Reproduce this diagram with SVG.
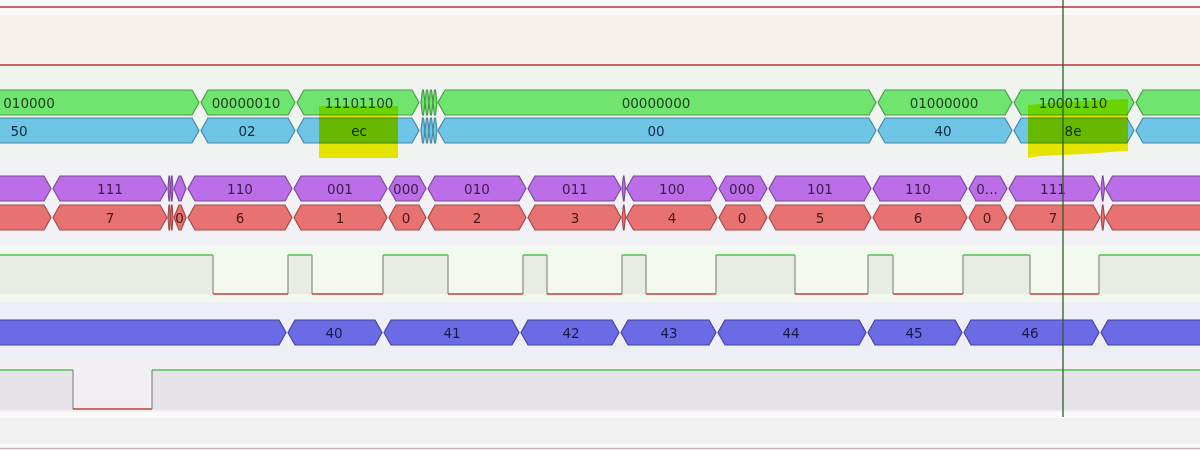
<svg xmlns="http://www.w3.org/2000/svg" xmlns:xlink="http://www.w3.org/1999/xlink" width="1200" height="450" viewBox="0 0 1200 450">
<style>
text{font-family:"DejaVu Sans","Liberation Sans",sans-serif;font-size:13.5px;text-anchor:middle}
.gbus{fill:#6fe46f;stroke:#4b9a4b;stroke-width:1.2}
.bbus{fill:#6ec5e5;stroke:#4a88a6;stroke-width:1.2}
.pbus{fill:#bb6ee8;stroke:#7c4a9c;stroke-width:1.2}
.rbus{fill:#e87272;stroke:#a44a4a;stroke-width:1.2}
.nbus{fill:#6b6be6;stroke:#45459c;stroke-width:1.2}
.gt{fill:#1c3c1c}.bt{fill:#0e2a44}.pt{fill:#3a1a4c}.rt{fill:#4c1414}.nt{fill:#1a1a48}
.hi{fill:none;stroke:#52c452;stroke-width:1.5}
.lo{fill:none;stroke:#c44040;stroke-width:1.5}
.ed{fill:none;stroke:#8a8a8a;stroke-width:1.2}
.hl{fill:#f4ee00;mix-blend-mode:multiply}
</style>
<defs>
<g id="gbShapes">
<polygon points="-19,102.5 -12,90 192,90 199,102.5 192,115 -12,115"/>
<polygon points="201,102.5 208,90 288,90 295,102.5 288,115 208,115"/>
<polygon points="297,102.5 304,90 412,90 419,102.5 412,115 304,115"/>
<polygon points="421,102.5 422.5,90 423.5,90 425,102.5 423.5,115 422.5,115"/>
<polygon points="425,102.5 426.5,90 427.5,90 429,102.5 427.5,115 426.5,115"/>
<polygon points="429,102.5 430.5,90 431.5,90 433,102.5 431.5,115 430.5,115"/>
<polygon points="433,102.5 434.5,90 435.5,90 437,102.5 435.5,115 434.5,115"/>
<polygon points="438,102.5 445,90 869,90 876,102.5 869,115 445,115"/>
<polygon points="878,102.5 885,90 1005,90 1012,102.5 1005,115 885,115"/>
<polygon points="1014,102.5 1021,90 1127,90 1134,102.5 1127,115 1021,115"/>
<polygon points="1136,102.5 1143,90 1220,90 1220,115 1143,115"/>
</g>
<g id="prShapes">
<polygon points="-19,188.5 -12,176 44,176 51,188.5 44,201 -12,201"/>
<polygon points="53,188.5 60,176 160,176 167,188.5 160,201 60,201"/>
<polygon points="168,188.5 169,176 169.5,176 170.5,188.5 169.5,201 169,201"/>
<polygon points="170.5,188.5 171.5,176 172,176 173,188.5 172,201 171.5,201"/>
<polygon points="174,188.5 179,176 181,176 186,188.5 181,201 179,201"/>
<polygon points="188,188.5 195,176 285,176 292,188.5 285,201 195,201"/>
<polygon points="294,188.5 301,176 380,176 387,188.5 380,201 301,201"/>
<polygon points="389,188.5 396,176 419,176 426,188.5 419,201 396,201"/>
<polygon points="428,188.5 435,176 519,176 526,188.5 519,201 435,201"/>
<polygon points="528,188.5 535,176 614,176 621,188.5 614,201 535,201"/>
<polygon points="622,188.5 623.5,176 624,176 625.5,188.5 624,201 623.5,201"/>
<polygon points="626.5,188.5 633.5,176 710,176 717,188.5 710,201 633.5,201"/>
<polygon points="719,188.5 726,176 760,176 767,188.5 760,201 726,201"/>
<polygon points="769,188.5 776,176 864,176 871,188.5 864,201 776,201"/>
<polygon points="873,188.5 880,176 960,176 967,188.5 960,201 880,201"/>
<polygon points="969,188.5 976,176 1000,176 1007,188.5 1000,201 976,201"/>
<polygon points="1009,188.5 1016,176 1093,176 1100,188.5 1093,201 1016,201"/>
<polygon points="1101,188.5 1102.5,176 1103,176 1104.5,188.5 1103,201 1102.5,201"/>
<polygon points="1105.5,188.5 1112.5,176 1220,176 1220,201 1112.5,201"/>
</g>
</defs>

<g id="background">
<rect x="0" y="0" width="1200" height="450" fill="#f2f2f4"/>
<rect x="0" y="0" width="1200" height="15" fill="#fbf9f8"/>
<rect x="0" y="15" width="1200" height="50" fill="#f6f0eb"/>
<rect x="0" y="66" width="1200" height="94" fill="#f0f4ef"/>
<rect x="0" y="160" width="1200" height="85" fill="#f2f2f6"/>
<rect x="0" y="245" width="1200" height="57" fill="#f4f9ef"/>
<rect x="0" y="302" width="1200" height="58" fill="#eeeef6"/>
<rect x="0" y="360" width="1200" height="52" fill="#f1eff3"/>
<rect x="0" y="412" width="1200" height="6" fill="#fafafa"/>
<rect x="0" y="418" width="1200" height="26" fill="#f1f1f1"/>
<rect x="0" y="444" width="1200" height="4" fill="#fbfbfb"/>
<line x1="0" y1="448.5" x2="1200" y2="448.5" stroke="#c9b8b6" stroke-width="1.5"/>
<line x1="0" y1="7" x2="1200" y2="7" stroke="#b03a3a" stroke-width="1.3"/>
<line x1="0" y1="65" x2="1200" y2="65" stroke="#b03a3a" stroke-width="1.3"/>
</g>

<g id="data-bin">
<use xlink:href="#gbShapes" href="#gbShapes" class="gbus"/>
<text class="gt" x="29" y="107.5">010000</text>
<text class="gt" x="246" y="107.5">00000010</text>
<text class="gt" x="359" y="107.5">11101100</text>
<text class="gt" x="656" y="107.5">00000000</text>
<text class="gt" x="944" y="107.5">01000000</text>
<text class="gt" x="1073" y="107.5">10001110</text>
</g>

<g id="data-hex">
<use xlink:href="#gbShapes" href="#gbShapes" class="bbus" transform="translate(0,28)"/>
<text class="bt" x="19" y="135.5">50</text>
<text class="bt" x="247" y="135.5">02</text>
<text class="bt" x="359" y="135.5">ec</text>
<text class="bt" x="656" y="135.5">00</text>
<text class="bt" x="943" y="135.5">40</text>
<text class="bt" x="1073" y="135.5">8e</text>
</g>

<g id="highlights">
<rect class="hl" x="319" y="106" width="79" height="52"/>
<path class="hl" d="M1028,105 L1060,102 L1128,99 L1128,151 L1110,152 L1085,154 L1060,155 L1040,156 L1028,158 Z"/>
</g>

<g id="bit-bin">
<use xlink:href="#prShapes" href="#prShapes" class="pbus"/>
<text class="pt" x="110" y="193.5">111</text>
<text class="pt" x="240" y="193.5">110</text>
<text class="pt" x="340" y="193.5">001</text>
<text class="pt" x="406" y="193.5">000</text>
<text class="pt" x="477" y="193.5">010</text>
<text class="pt" x="575" y="193.5">011</text>
<text class="pt" x="672" y="193.5">100</text>
<text class="pt" x="742" y="193.5">000</text>
<text class="pt" x="820" y="193.5">101</text>
<text class="pt" x="918" y="193.5">110</text>
<text class="pt" x="987" y="193.5">0...</text>
<text class="pt" x="1053" y="193.5">111</text>
</g>

<g id="bit-dec">
<use xlink:href="#prShapes" href="#prShapes" class="rbus" transform="translate(0,29)"/>
<text class="rt" x="110" y="222.5">7</text>
<text class="rt" x="179.5" y="222.5">0</text>
<text class="rt" x="240" y="222.5">6</text>
<text class="rt" x="340" y="222.5">1</text>
<text class="rt" x="406" y="222.5">0</text>
<text class="rt" x="477" y="222.5">2</text>
<text class="rt" x="575" y="222.5">3</text>
<text class="rt" x="672" y="222.5">4</text>
<text class="rt" x="742" y="222.5">0</text>
<text class="rt" x="820" y="222.5">5</text>
<text class="rt" x="918" y="222.5">6</text>
<text class="rt" x="987" y="222.5">0</text>
<text class="rt" x="1053" y="222.5">7</text>
</g>

<g id="clock">
<g fill="#e8ede4">
<rect x="0" y="255" width="213" height="39"/>
<rect x="288" y="255" width="24" height="39"/>
<rect x="383" y="255" width="65" height="39"/>
<rect x="523" y="255" width="24" height="39"/>
<rect x="622" y="255" width="24" height="39"/>
<rect x="716" y="255" width="79" height="39"/>
<rect x="868" y="255" width="25" height="39"/>
<rect x="963" y="255" width="67" height="39"/>
<rect x="1099" y="255" width="101" height="39"/>
</g>
<path class="ed" d="M213,255V294M288,255V294M312,255V294M383,255V294M448,255V294M523,255V294M547,255V294M622,255V294M646,255V294M716,255V294M795,255V294M868,255V294M893,255V294M963,255V294M1030,255V294M1099,255V294"/>
<path class="hi" d="M0,255H213M288,255H312M383,255H448M523,255H547M622,255H646M716,255H795M868,255H893M963,255H1030M1099,255H1200"/>
<path class="lo" d="M213,294H288M312,294H383M448,294H523M547,294H622M646,294H716M795,294H868M893,294H963M1030,294H1099"/>
</g>

<g id="counter">
<polygon class="nbus" points="-19,332.5 -12,320 279,320 286,332.5 279,345 -12,345"/>
<polygon class="nbus" points="288,332.5 295,320 375,320 382,332.5 375,345 295,345"/>
<polygon class="nbus" points="384,332.5 391,320 512,320 519,332.5 512,345 391,345"/>
<polygon class="nbus" points="521,332.5 528,320 612,320 619,332.5 612,345 528,345"/>
<polygon class="nbus" points="621,332.5 628,320 709,320 716,332.5 709,345 628,345"/>
<polygon class="nbus" points="718,332.5 725,320 859,320 866,332.5 859,345 725,345"/>
<polygon class="nbus" points="868,332.5 875,320 955,320 962,332.5 955,345 875,345"/>
<polygon class="nbus" points="964,332.5 971,320 1092,320 1099,332.5 1092,345 971,345"/>
<polygon class="nbus" points="1101,332.5 1108,320 1220,320 1220,345 1108,345"/>
<text class="nt" x="334" y="337.5">40</text>
<text class="nt" x="452" y="337.5">41</text>
<text class="nt" x="571" y="337.5">42</text>
<text class="nt" x="669" y="337.5">43</text>
<text class="nt" x="791" y="337.5">44</text>
<text class="nt" x="914" y="337.5">45</text>
<text class="nt" x="1030" y="337.5">46</text>
</g>

<g id="enable">
<rect x="0" y="370" width="73" height="40" fill="#e6e4e9"/>
<rect x="152" y="370" width="1048" height="40" fill="#e6e4e9"/>
<path class="ed" d="M73,370V409M152,370V409"/>
<path class="hi" d="M0,370H73M152,370H1200"/>
<path class="lo" d="M73,409H152"/>
</g>

<g id="connectors">
<line id="cursor" x1="1063" y1="0" x2="1063" y2="417" stroke="#2f5e22" stroke-width="1.3"/>
</g>
</svg>
